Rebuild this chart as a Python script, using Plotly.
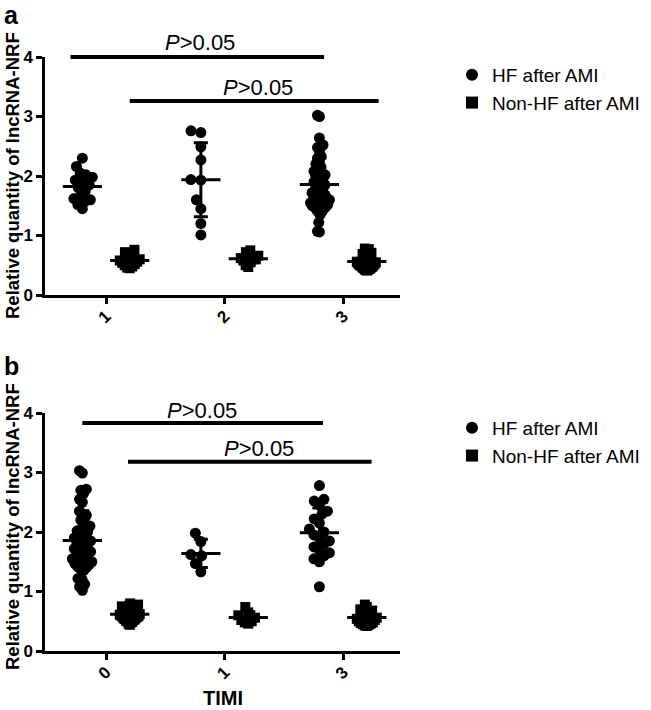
import numpy as np
import plotly.graph_objects as go

# ---------------- data ----------------
top_categories = ["1", "2", "3"]
bottom_categories = ["0", "1", "3"]

top_hf = [
    [2.30, 2.16, 2.05, 2.02, 1.98, 1.93, 1.90, 1.85, 1.80, 1.75, 1.66, 1.62, 1.60, 1.58, 1.52,
     1.45],
    [2.76, 2.73, 2.49, 2.27, 1.94, 1.93, 1.60, 1.45, 1.20, 1.01],
    [3.02, 3.00, 2.64, 2.52, 2.50, 2.48, 2.42, 2.33, 2.30, 2.25, 2.20, 2.15, 2.10, 2.08, 2.05,
     2.02, 2.00, 1.97, 1.95, 1.92, 1.90, 1.88, 1.85, 1.82, 1.80, 1.78, 1.75, 1.72, 1.70, 1.68,
     1.65, 1.62, 1.62, 1.60, 1.58, 1.58, 1.55, 1.52, 1.52, 1.50, 1.48, 1.48, 1.45, 1.44, 1.40,
     1.40, 1.35, 1.22, 1.07, 1.06],
]
top_nonhf = [
    [0.76, 0.72, 0.68, 0.65, 0.62, 0.60, 0.58, 0.56, 0.54, 0.52, 0.50, 0.48, 0.46, 0.45],
    [0.75, 0.72, 0.66, 0.64, 0.62, 0.60, 0.60, 0.58, 0.55, 0.50, 0.47],
    [0.78, 0.77, 0.76, 0.75, 0.73, 0.71, 0.69, 0.67, 0.65, 0.63, 0.61, 0.60, 0.59, 0.58, 0.57,
     0.56, 0.55, 0.54, 0.53, 0.52, 0.51, 0.50, 0.50, 0.49, 0.48, 0.47, 0.46, 0.46, 0.45, 0.44,
     0.44, 0.43, 0.42, 0.42, 0.41],
]
bottom_hf = [
    [3.03, 2.99, 2.72, 2.70, 2.65, 2.55, 2.50, 2.35, 2.30, 2.28, 2.20, 2.15, 2.10, 2.05, 2.02,
     2.00, 1.97, 1.93, 1.90, 1.87, 1.85, 1.82, 1.80, 1.78, 1.75, 1.72, 1.70, 1.67, 1.65, 1.62,
     1.60, 1.57, 1.55, 1.52, 1.50, 1.47, 1.45, 1.42, 1.40, 1.38, 1.35, 1.22, 1.20, 1.12, 1.08,
     1.02],
    [1.98, 1.84, 1.62, 1.60, 1.47, 1.33],
    [2.78, 2.55, 2.52, 2.45, 2.35, 2.30, 2.22, 2.15, 2.05, 2.00, 1.95, 1.90, 1.85, 1.80, 1.75,
     1.70, 1.65, 1.60, 1.55, 1.50, 1.08],
]
bottom_nonhf = [
    [0.80, 0.78, 0.76, 0.75, 0.74, 0.72, 0.71, 0.70, 0.69, 0.68, 0.67, 0.66, 0.65, 0.64, 0.63,
     0.62, 0.61, 0.60, 0.60, 0.59, 0.58, 0.57, 0.56, 0.55, 0.54, 0.53, 0.52, 0.51, 0.50, 0.49,
     0.48, 0.46, 0.44],
    [0.74, 0.65, 0.60, 0.56, 0.52, 0.50, 0.48, 0.46],
    [0.78, 0.74, 0.70, 0.68, 0.66, 0.64, 0.62, 0.60, 0.58, 0.56, 0.54, 0.52, 0.50, 0.48, 0.47,
     0.46, 0.45, 0.44, 0.43, 0.42],
]

y_ticks = [0, 1, 2, 3, 4]
series_names = ["HF after AMI", "Non-HF after AMI"]
p_label = "<i>P</i>&gt;0.05"

# ---------------- layout constants ----------------
W, H = 651, 710
FONT = "Arial, Liberation Sans, Helvetica, sans-serif"
X_RANGE = [0.485, 3.48]
Y_RANGE = [0, 4]
PLOT_L, PLOT_R = 45, 400
PX_X = (PLOT_R - PLOT_L) / (X_RANGE[1] - X_RANGE[0])
PANELS = [dict(top=57, bottom=295), dict(top=413, bottom=651)]
PX_Y = (PANELS[0]["bottom"] - PANELS[0]["top"]) / (Y_RANGE[1] - Y_RANGE[0])
GROUP_SHIFT = 0.2
SPREAD_PX = 10.0


def swarm(vals, d=10.0, spread=SPREAD_PX):
    """Beeswarm offsets (data-x units), then squeezed/stretched to a fixed half-width."""
    order = sorted(range(len(vals)), key=lambda i: vals[i])
    placed = []
    offs = [0.0] * len(vals)
    for i in order:
        y = vals[i] * PX_Y
        near = [(px, py) for px, py in placed if abs(py - y) < d]
        cands = [0.0]
        for px, py in near:
            dx = np.sqrt(max(d * d - (py - y) ** 2, 0))
            cands += [px + dx, px - dx]
        cands.sort(key=lambda c: (abs(c), c))
        chosen = 0.0
        for c in cands:
            if all((c - px) ** 2 + (y - py) ** 2 >= d * d - 1e-6 for px, py in near):
                chosen = c
                break
        placed.append((chosen, y))
        offs[i] = chosen
    m = max(abs(o) for o in offs)
    scale = spread / m if m > 0 else 0.0
    return [o * scale / PX_X for o in offs]


fig = go.Figure()

panel_data = [(top_hf, top_nonhf, top_categories), (bottom_hf, bottom_nonhf, bottom_categories)]
for p, (hf, nonhf, cats) in enumerate(panel_data):
    xa = "x" if p == 0 else "x2"
    ya = "y" if p == 0 else "y2"
    leg = "legend" if p == 0 else "legend2"
    for k, (vals_list, symbol, size, shift) in enumerate([
        (hf, "circle", 11, -GROUP_SHIFT),
        (nonhf, "square", 10, GROUP_SHIFT),
    ]):
        xs, ys = [], []
        for g, vals in enumerate(vals_list):
            offs = swarm(vals)
            xs += [g + 1 + shift + o for o in offs]
            ys += list(vals)
        fig.add_trace(go.Scatter(
            x=xs, y=ys, mode="markers", xaxis=xa, yaxis=ya,
            name=series_names[k], legend=leg, showlegend=True,
            marker=dict(symbol=symbol, size=size, color="black", line=dict(width=0)),
            cliponaxis=False, hoverinfo="skip",
        ))
        for g, vals in enumerate(vals_list):
            m = float(np.mean(vals))
            sd = float(np.std(vals, ddof=1))
            fig.add_trace(go.Scatter(
                x=[g + 1 + shift], y=[m], mode="markers", xaxis=xa, yaxis=ya,
                showlegend=False, hoverinfo="skip", cliponaxis=False,
                marker=dict(symbol="line-ew", size=28, color="black",
                            line=dict(width=3, color="black")),
                error_y=dict(type="data", array=[sd], visible=True,
                             thickness=3, width=7, color="black"),
            ))


def xdom(v):
    return (v - X_RANGE[0]) / (X_RANGE[1] - X_RANGE[0])


def ydom(v):
    return (v - Y_RANGE[0]) / (Y_RANGE[1] - Y_RANGE[0])


# significance bars: (x0, x1, y, text x, text y)
sig = [
    [(0.70, 2.84, 4.00, 1.79, 4.24), (1.20, 3.30, 3.26, 2.28, 3.48)],
    [(0.80, 2.83, 3.83, 1.81, 4.05), (1.185, 3.24, 3.18, 2.29, 3.41)],
]
for p, bars in enumerate(sig):
    sx = "x domain" if p == 0 else "x2 domain"
    sy = "y domain" if p == 0 else "y2 domain"
    for x0, x1, yv, tx, ty in bars:
        fig.add_shape(type="line", xref=sx, yref=sy,
                      x0=xdom(x0), x1=xdom(x1), y0=ydom(yv), y1=ydom(yv),
                      line=dict(color="black", width=4))
        fig.add_annotation(xref=sx, yref=sy, x=xdom(tx), y=ydom(ty),
                           text=p_label, showarrow=False,
                           font=dict(family=FONT, size=22, color="black"),
                           xanchor="center", yanchor="middle")


def frac_y(px):
    return 1 - px / H


axis_common = dict(
    showline=True, linecolor="black", linewidth=2.5, mirror=False,
    ticks="outside", ticklen=6, tickwidth=2.5, tickcolor="black",
    showgrid=False, zeroline=False, automargin=False,
    tickfont=dict(family=FONT, size=17, color="black", weight="bold"),
)
x_domain = [PLOT_L / W, PLOT_R / W]
layout = dict(
    width=W, height=H,
    margin=dict(l=0, r=0, t=0, b=0),
    paper_bgcolor="white", plot_bgcolor="white",
    font=dict(family=FONT, color="black"),
    xaxis=dict(**axis_common, domain=x_domain, range=X_RANGE, anchor="y",
               tickmode="array", tickvals=[1, 2, 3], ticktext=top_categories, tickangle=-45,
               ticklabelstandoff=-4),
    yaxis=dict(**axis_common, domain=[frac_y(PANELS[0]["bottom"]), frac_y(PANELS[0]["top"])],
               range=Y_RANGE, anchor="x", tickmode="array", tickvals=y_ticks),
    xaxis2=dict(**axis_common, domain=x_domain, range=X_RANGE, anchor="y2",
                tickmode="array", tickvals=[1, 2, 3], ticktext=bottom_categories, tickangle=-45,
                ticklabelstandoff=-4),
    yaxis2=dict(**axis_common, domain=[frac_y(PANELS[1]["bottom"]), frac_y(PANELS[1]["top"])],
                range=Y_RANGE, anchor="x2", tickmode="array", tickvals=y_ticks),
    legend=dict(x=452 / W, y=frac_y(56), xanchor="left", yanchor="top",
                font=dict(family=FONT, size=19, color="black"),
                itemsizing="constant", tracegroupgap=0, bgcolor="rgba(0,0,0,0)"),
    legend2=dict(x=452 / W, y=frac_y(409), xanchor="left", yanchor="top",
                 font=dict(family=FONT, size=19, color="black"),
                 itemsizing="constant", tracegroupgap=0, bgcolor="rgba(0,0,0,0)"),
    showlegend=True,
)
fig.update_layout(**layout)

# panel letters, axis titles
for txt, ypx in [("a", 15), ("b", 366)]:
    fig.add_annotation(xref="paper", yref="paper", x=2 / W, y=frac_y(ypx), text=f"<b>{txt}</b>",
                       showarrow=False, xanchor="left", yanchor="middle",
                       font=dict(family=FONT, size=25, color="black"))
for ycen in [176, 527]:
    fig.add_annotation(xref="paper", yref="paper", x=12 / W, y=frac_y(ycen),
                       text="<b>Relative quantity of lncRNA-NRF</b>", textangle=-90,
                       showarrow=False, xanchor="center", yanchor="middle",
                       font=dict(family=FONT, size=18.5, color="black"))
fig.add_annotation(xref="paper", yref="paper", x=(PLOT_L + PLOT_R) / 2 / W, y=frac_y(698),
                   text="<b>TIMI</b>", showarrow=False, xanchor="center", yanchor="middle",
                   font=dict(family=FONT, size=20, color="black"))

fig.write_html("out.html",
               config={"displayModeBar": False},
               post_script="document.body.style.margin='0px';document.body.style.padding='0px';")
